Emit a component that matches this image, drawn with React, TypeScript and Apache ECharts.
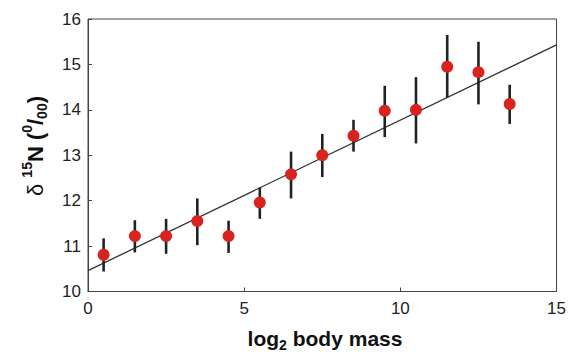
import React, { useEffect, useRef } from "react";
import * as echarts from "echarts";

const xs = [0.5, 1.5, 2.5, 3.5, 4.5, 5.5, 6.5, 7.5, 8.5, 9.5, 10.5, 11.5, 12.5, 13.5];
const means = [10.81, 11.22, 11.22, 11.55, 11.22, 11.96, 12.58, 13.0, 13.43, 13.98, 14.0, 14.95, 14.83, 14.13];
const upper = [11.17, 11.57, 11.6, 12.05, 11.56, 12.29, 13.08, 13.47, 13.78, 14.53, 14.72, 15.65, 15.5, 14.55];
const lower = [10.44, 10.86, 10.83, 11.02, 10.85, 11.6, 12.05, 12.52, 13.08, 13.4, 13.26, 14.27, 14.12, 13.69];
const fitX = [0, 15];
const fitY = [10.46, 15.43];

export default function App() {
  const ref = useRef<HTMLDivElement>(null);
  useEffect(() => {
    const chart = echarts.init(ref.current!, null, { renderer: "svg" });
    const font = "'Liberation Sans', Arial, sans-serif";
    chart.setOption({
      animation: false,
      grid: {
        left: 88, right: 12, top: 19, bottom: 60.5,
        show: true, borderColor: "#444", borderWidth: 1,
      },
      xAxis: {
        type: "value", min: 0, max: 15, interval: 5,
        axisLine: { lineStyle: { color: "#444", width: 1 } },
        axisTick: { inside: true, length: 4, lineStyle: { color: "#444" } },
        splitLine: { show: false },
        axisLabel: { color: "#222", fontSize: 17, fontFamily: font, margin: 8 },
      },
      yAxis: {
        type: "value", min: 10, max: 16, interval: 1,
        axisLine: { show: true, lineStyle: { color: "#444", width: 1 } },
        axisTick: { show: true, inside: true, length: 4, lineStyle: { color: "#444" } },
        splitLine: { show: false },
        axisLabel: { color: "#222", fontSize: 17, fontFamily: font, margin: 7 },
      },
      series: [
        {
          type: "line",
          data: fitX.map((x, i) => [x, fitY[i]]),
          symbol: "none",
          lineStyle: { color: "#333", width: 1.3 },
          z: 2,
        },
        {
          type: "custom",
          data: xs.map((x, i) => [x, lower[i], upper[i]]),
          renderItem: (params: any, api: any) => {
            const p1 = api.coord([api.value(0), api.value(1)]);
            const p2 = api.coord([api.value(0), api.value(2)]);
            return {
              type: "line",
              shape: { x1: p1[0], y1: p1[1], x2: p2[0], y2: p2[1] },
              style: { stroke: "#222", lineWidth: 2.6 },
            };
          },
          z: 3,
        },
        {
          type: "scatter",
          data: xs.map((x, i) => [x, means[i]]),
          symbol: "circle",
          symbolSize: 12,
          itemStyle: { color: "#d8231f", opacity: 1 },
          z: 4,
        },
      ],
      graphic: [
        {
          type: "text",
          x: 325, y: 337,
          style: {
            text: "{b|log}{s|2}{b| body mass}",
            align: "center", verticalAlign: "middle",
            fill: "#111",
            rich: {
              b: { fontSize: 21, fontWeight: "bold", fontFamily: font, fill: "#111", lineHeight: 24, verticalAlign: "bottom" },
              s: { fontSize: 14, fontWeight: "bold", fontFamily: font, fill: "#111", lineHeight: 14, verticalAlign: "bottom", padding: [0, 0, -3, 0] },
            },
          },
        },
        {
          type: "text",
          x: 33, y: 146,
          rotation: Math.PI / 2,
          style: {
            text: "{d|δ }{p|15}{b|N (}{p|0}{b|/}{q|00}{b|)}",
            align: "center", verticalAlign: "middle",
            fill: "#111",
            rich: {
              d: { fontSize: 22, fontFamily: font, fill: "#111", lineHeight: 26, verticalAlign: "bottom" },
              b: { fontSize: 22, fontWeight: "bold", fontFamily: font, fill: "#111", lineHeight: 26, verticalAlign: "bottom" },
              p: { fontSize: 14, fontWeight: "bold", fontFamily: font, fill: "#111", lineHeight: 26, verticalAlign: "top" },
              q: { fontSize: 14, fontWeight: "bold", fontFamily: font, fill: "#111", lineHeight: 14, verticalAlign: "bottom", padding: [0, 0, -3, 0] },
            },
          },
        },
      ],
    });
    return () => chart.dispose();
  }, []);
  return <div ref={ref} style={{ width: 569, height: 352, position: "absolute", left: 0, top: 0 }} />;
}
